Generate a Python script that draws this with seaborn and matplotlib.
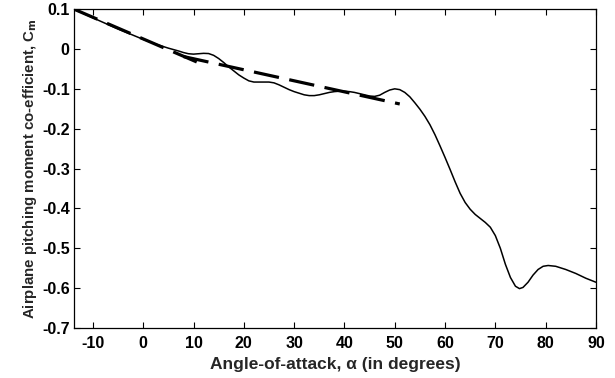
import numpy as np
import pandas as pd
import matplotlib
matplotlib.use("Agg")
import matplotlib.pyplot as plt
import seaborn as sns

alpha = [-13.8, -10, -5, 0, 3, 5, 7, 8, 9, 10, 11, 12, 13, 14, 15, 16, 17, 18, 19, 20,
         21, 22, 23, 24, 25, 26, 27, 28, 29, 30, 31, 32, 33, 34, 35, 36, 37, 38, 39, 40,
         41, 42, 43, 44, 45, 46, 47, 48, 49, 50, 51, 52, 53, 54, 55, 56, 57, 58, 59, 60,
         61, 62, 63, 64, 65, 66, 67, 68, 69, 70, 71, 72, 73, 74, 74.8, 75.5, 76.5, 77.5,
         78.5, 79.5, 80.5, 82, 84, 86, 88, 90]
cm = [0.1, 0.078, 0.05, 0.024, 0.01, 0.002, -0.005, -0.009, -0.012, -0.013, -0.012,
      -0.011, -0.0115, -0.016, -0.024, -0.034, -0.045, -0.055, -0.065, -0.073,
      -0.08, -0.083, -0.083, -0.083, -0.083, -0.085, -0.09, -0.096, -0.102, -0.107,
      -0.111, -0.115, -0.117, -0.117, -0.115, -0.112, -0.109, -0.107, -0.106, -0.106,
      -0.107, -0.109, -0.112, -0.115, -0.118, -0.119, -0.116, -0.109, -0.103, -0.1,
      -0.102, -0.109, -0.12, -0.135, -0.151, -0.169, -0.19, -0.215, -0.243, -0.272,
      -0.302, -0.333, -0.362, -0.385, -0.402, -0.415, -0.425, -0.435, -0.447, -0.468,
      -0.5, -0.54, -0.573, -0.595, -0.601, -0.598, -0.585, -0.567,
      -0.553, -0.545, -0.543, -0.545, -0.553, -0.563, -0.575, -0.585]

# Linear approximations (dashed)
lin1_alpha = [-13.8, 12.0]
lin1_cm = [0.1, -0.04]
lin2_alpha = [8, 51]
lin2_cm = [-0.019, -0.138]

xticks = [-10, 0, 10, 20, 30, 40, 50, 60, 70, 80, 90]
yticks = [0.1, 0, -0.1, -0.2, -0.3, -0.4, -0.5, -0.6, -0.7]
ytick_labels = ["0.1", "0", "-0.1", "-0.2", "-0.3", "-0.4", "-0.5", "-0.6", "-0.7"]

sns.set_theme(style="ticks")
plt.rcParams['font.family'] = ['Liberation Sans', 'DejaVu Sans']
plt.rcParams['font.weight'] = 'bold'
plt.rcParams['axes.labelweight'] = 'bold'

fig = plt.figure(figsize=(6.15, 3.78), dpi=100)
ax = fig.add_axes([0.120, 0.132, 0.849, 0.844])

df = pd.DataFrame({"alpha": alpha, "cm": cm})
sns.lineplot(data=df, x="alpha", y="cm", ax=ax, color="black", linewidth=1.1,
             sort=False, estimator=None)
d1 = pd.DataFrame({"alpha": lin1_alpha, "cm": lin1_cm})
d2 = pd.DataFrame({"alpha": lin2_alpha, "cm": lin2_cm})
for d in (d1, d2):
    sns.lineplot(data=d, x="alpha", y="cm", ax=ax, color="black", linewidth=2.3,
                 sort=False, estimator=None)
    ax.lines[-1].set_dashes((8, 3.3))
    ax.lines[-1].set_dash_capstyle("butt")

ax.set_xlim(-13.8, 90)
ax.set_ylim(-0.7, 0.1)
ax.set_xticks(xticks)
ax.set_xticklabels([str(t) for t in xticks])
ax.set_yticks(yticks)
ax.set_yticklabels(ytick_labels)
ax.tick_params(direction="in", top=True, right=True, length=4, width=0.8,
               labelsize=11.5, colors="black")
ax.tick_params(axis="x", pad=6)
ax.tick_params(axis="y", pad=3)
for lbl in ax.get_xticklabels() + ax.get_yticklabels():
    lbl.set_fontweight("bold")
for s in ax.spines.values():
    s.set_visible(True)
    s.set_linewidth(0.9)
    s.set_color("black")

ax.set_xlabel("Angle-of-attack, \u03b1 (in degrees)", fontsize=12.5, fontweight="bold", labelpad=4)
ax.set_ylabel("Airplane pitching moment co-efficient, C$_\\mathbf{m}$", fontsize=10.8,
              fontweight="bold", labelpad=2)

fig.savefig("out.png", dpi=100)
